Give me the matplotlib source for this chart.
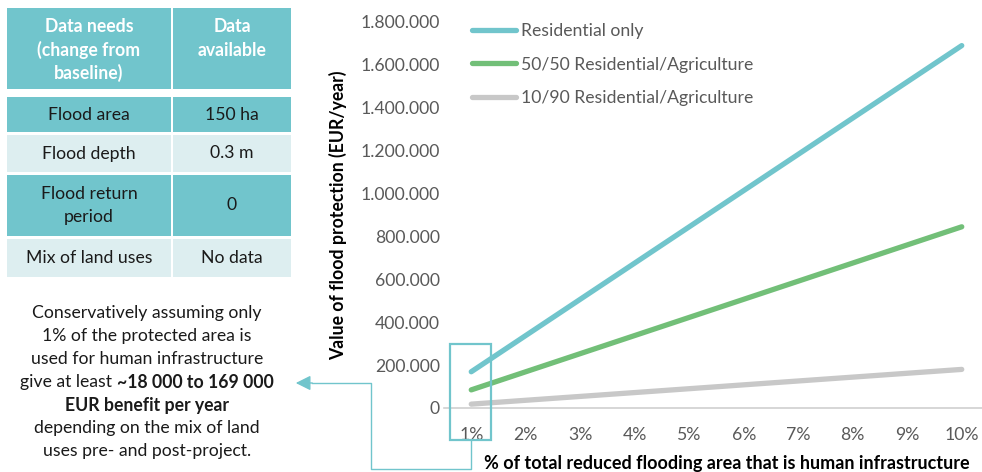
import matplotlib
matplotlib.use("Agg")

import matplotlib.pyplot as plt
from matplotlib.patches import Rectangle, FancyArrowPatch
from matplotlib.ticker import FuncFormatter

plt.rcParams["font.family"] = ["Lato", "DejaVu Sans"]

# ============================================================
# DATA
# ============================================================
share_pct = [1, 2, 3, 4, 5, 6, 7, 8, 9, 10]
share_labels = ["1%", "2%", "3%", "4%", "5%", "6%", "7%", "8%", "9%", "10%"]

residential_only = [169000, 338000, 507000, 676000, 845000,
                    1014000, 1183000, 1352000, 1521000, 1690000]
mix_50_50 = [84500, 169000, 253500, 338000, 422500,
             507000, 591500, 676000, 760500, 845000]
mix_10_90 = [18000, 36000, 54000, 72000, 90000,
             108000, 126000, 144000, 162000, 180000]

series_names = ["Residential only", "50/50 Residential/Agriculture",
                "10/90 Residential/Agriculture"]

table_header = ["Data needs\n(change from\nbaseline)", "Data\navailable"]
table_needs = ["Flood area", "Flood depth", "Flood return\nperiod", "Mix of land uses"]
table_available = ["150 ha", "0.3 m", "0", "No data"]

# ============================================================
# STYLE
# ============================================================
W, H = 982, 472
TEAL = "#71C5CC"
LIGHT = "#DDEEF0"
GREEN = "#72BF78"
GREY = "#C8C8C8"
TICK_GREY = "#595959"
FS = 12.7
LINE_GAP = 23  # px between stacked text lines

fig = plt.figure(figsize=(W / 100, H / 100), dpi=100)


def px_box(x0, y0, x1, y1):
    # pixel box (top-left origin) -> figure fraction rect
    return [x0 / W, 1 - y1 / H, (x1 - x0) / W, (y1 - y0) / H]


def stacked_text(axis, x, y_first, text, **kw):
    for i, line in enumerate(text.split("\n")):
        axis.text(x, y_first + i * LINE_GAP, line, ha="center", va="center", **kw)


# ---- line chart ----
ax = fig.add_axes(px_box(444, 22, 989, 408))
colors = [TEAL, GREEN, GREY]
for vals, name, c in zip([residential_only, mix_50_50, mix_10_90], series_names, colors):
    ax.plot(share_pct, vals, color=c, lw=3.8, solid_capstyle="round", label=name)

ax.set_xlim(0.5, 10.5)
ax.set_ylim(0, 1800000)
ax.set_yticks(range(0, 1800001, 200000))
ax.yaxis.set_major_formatter(FuncFormatter(lambda v, p: f"{int(v):,}".replace(",", ".")))
ax.set_xticks(share_pct)
ax.set_xticklabels(share_labels)
ax.tick_params(axis="both", length=0, labelsize=FS, colors=TICK_GREY)
ax.tick_params(axis="y", pad=3)
ax.tick_params(axis="x", pad=14)
for side in ["top", "right", "left"]:
    ax.spines[side].set_visible(False)
ax.spines["bottom"].set_color("#D0D0D0")
ax.spines["bottom"].set_linewidth(1.2)
ax.patch.set_alpha(0)

ax.set_ylabel("Value of flood protection (EUR/year)", fontsize=FS,
              fontweight="bold", color="black")
ax.yaxis.set_label_coords(-0.178, 0.5)

leg = ax.legend(loc="upper left", bbox_to_anchor=(0.038, 1.016), frameon=False,
                fontsize=FS, labelspacing=1.0, handlelength=2.5,
                handletextpad=0.3, borderaxespad=0)
for t in leg.get_texts():
    t.set_color(TICK_GREY)

# ---- overlay in pixel coordinates: table, note, connector ----
ov = fig.add_axes([0, 0, 1, 1])
ov.set_xlim(0, W)
ov.set_ylim(H, 0)
ov.axis("off")
ov.patch.set_alpha(0)

cols = [(7, 171), (173, 291)]
rows = [(8, 89), (97, 132), (135, 172), (175, 236), (239, 277)]
row_colors = [TEAL, TEAL, LIGHT, TEAL, LIGHT]

for r, (y0, y1) in enumerate(rows):
    for c, (x0, x1) in enumerate(cols):
        ov.add_patch(Rectangle((x0, y0), x1 - x0, y1 - y0, facecolor=row_colors[r],
                               edgecolor="none"))

for c, (x0, x1) in enumerate(cols):
    stacked_text(ov, (x0 + x1) / 2, 27, table_header[c], color="white",
                 fontsize=FS, fontweight="bold")

for r, (need, avail) in enumerate(zip(table_needs, table_available)):
    y0, y1 = rows[r + 1]
    for c, txt in enumerate([need, avail]):
        x0, x1 = cols[c]
        n = txt.count("\n")
        stacked_text(ov, (x0 + x1) / 2, (y0 + y1) / 2 - n * LINE_GAP / 2, txt,
                     color="#1A1A1A", fontsize=FS)

note_lines = [
    ("Conservatively assuming only", "normal"),
    ("1% of the protected area is", "normal"),
    ("used for human infrastructure", "normal"),
    (None, None),
    ("EUR benefit per year", "bold"),
    ("depending on the mix of land", "normal"),
    ("uses pre- and post-project.", "normal"),
]
for i, (txt, w) in enumerate(note_lines):
    if txt is None:
        continue
    ov.text(147, 313 + i * LINE_GAP, txt, ha="center", va="center", fontsize=FS,
            fontweight=w, color="#1A1A1A")

# mixed weight line: "give at least ~18 000 to 169 000"
y_mix = 313 + 3 * LINE_GAP
t1 = ov.text(147, y_mix, "give at least ", ha="right", va="center", fontsize=FS,
             color="#1A1A1A")
t2 = ov.text(147, y_mix, "~18 000 to 169 000", ha="left", va="center", fontsize=FS,
             fontweight="bold", color="#1A1A1A")
fig.canvas.draw()
r = fig.canvas.get_renderer()
w1 = t1.get_window_extent(r).width
w2 = t2.get_window_extent(r).width
left = 147 - (w1 + w2) / 2
t1.set_x(left + w1)
t2.set_x(left + w1)

# highlight box around the 1% point and connector back to the note
ov.add_patch(Rectangle((450, 344), 41, 96, facecolor="none", edgecolor=TEAL, lw=1.6))
ov.plot([471, 471, 371, 371, 312], [440, 469, 469, 383, 383], color=TEAL, lw=1.0)
ov.add_patch(FancyArrowPatch((315, 383), (293, 383), arrowstyle="-|>,head_length=9,head_width=4.5",
                             color=TEAL, lw=1.0, mutation_scale=1))

ov.text(727, 463, "% of total reduced flooding area that is human infrastructure",
        ha="center", va="center", fontsize=13, fontweight="bold", color="black")

fig.savefig("out.png", dpi=100)
